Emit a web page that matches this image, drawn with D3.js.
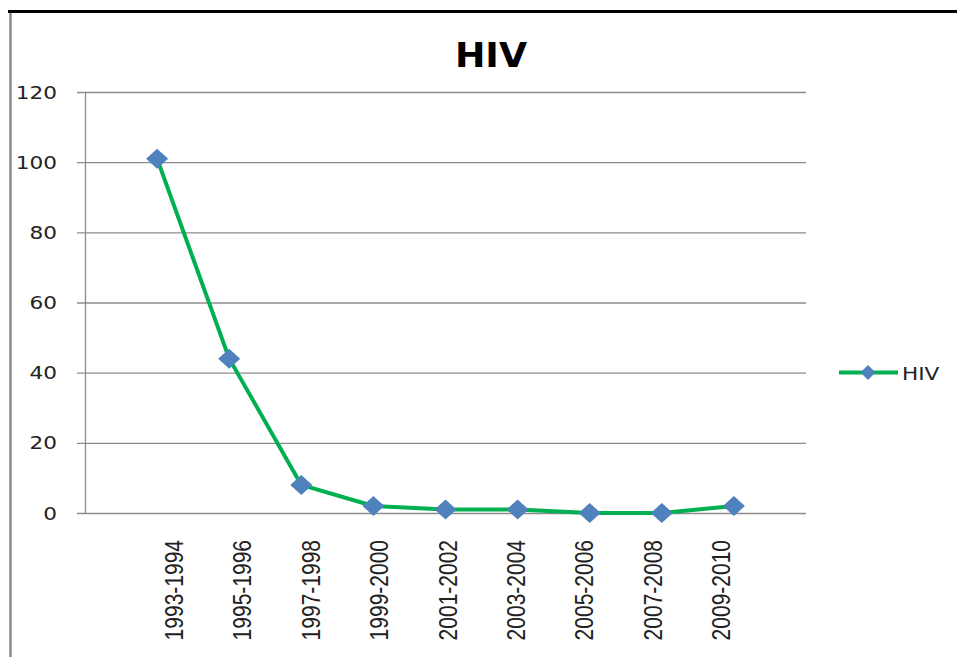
<!DOCTYPE html>
<html>
<head>
<meta charset="utf-8">
<script src="https://cdn.jsdelivr.net/npm/d3@7"></script>
<style>
  html, body { margin: 0; padding: 0; background: #fff; }
  svg { display: block; }
</style>
</head>
<body>
<svg id="chart" width="957" height="657"></svg>
<script>
// Reporting periods and HIV counts
const categories = ["1993-1994", "1995-1996", "1997-1998", "1999-2000", "2001-2002",
                    "2003-2004", "2005-2006", "2007-2008", "2009-2010"];
const hivValues = [101, 44, 8, 2, 1, 1, 0, 0, 2];
const yTicks = [0, 20, 40, 60, 80, 100, 120];
const seriesName = "HIV";
const chartTitle = "HIV";

const svg = d3.select("#chart");
const plot = { left: 85, right: 806, top: 92, bottom: 513 };
const stretch = 1.2; // text is drawn slightly wide

// Categories sit on slots 1..n, with an empty slot at each end of the axis
const x = d3.scaleLinear().domain([0, categories.length + 1]).range([plot.left, plot.right]);
const y = d3.scaleLinear().domain([0, 120]).range([plot.bottom, plot.top]);
// Category labels are laid out on their own, slightly tighter, spacing
const xLabel = d3.scalePoint().domain(categories).range([174, 721]);

// Frame edges
svg.append("line").attr("x1", 8).attr("x2", 957).attr("y1", 11.5).attr("y2", 11.5)
  .attr("stroke", "#000").attr("stroke-width", 3);
svg.append("line").attr("x1", 10.5).attr("x2", 10.5).attr("y1", 13).attr("y2", 657)
  .attr("stroke", "#8a8a8a").attr("stroke-width", 2.5);

// Title
svg.append("text")
  .attr("transform", `translate(491,67) scale(1.07,1)`)
  .attr("text-anchor", "middle")
  .attr("font-family", "DejaVu Sans")
  .attr("font-weight", "bold")
  .attr("font-size", 34)
  .attr("fill", "#000")
  .text(chartTitle);

// Horizontal gridlines with short ticks left of the axis
svg.append("g")
  .attr("transform", `translate(${plot.right},0)`)
  .call(d3.axisLeft(y).tickValues(yTicks).tickSize(plot.right - plot.left + 8).tickFormat(""))
  .call(g => g.select(".domain").remove())
  .call(g => g.selectAll(".tick line").attr("stroke", "#8c8c8c").attr("stroke-width", 1.3));

// Vertical axis line
svg.append("line")
  .attr("x1", plot.left + 0.5).attr("x2", plot.left + 0.5)
  .attr("y1", plot.top).attr("y2", plot.bottom)
  .attr("stroke", "#8c8c8c").attr("stroke-width", 1.3);

// Y tick labels
svg.append("g").selectAll("text").data(yTicks).join("text")
  .attr("transform", d => `translate(57,${y(d) + 6.5}) scale(${stretch},1)`)
  .attr("text-anchor", "end")
  .attr("font-family", "DejaVu Sans")
  .attr("font-size", 18)
  .attr("fill", "#222")
  .text(d => d);

// X tick labels, rotated
svg.append("g").selectAll("text").data(categories).join("text")
  .attr("transform", d => `translate(${xLabel(d) + 9},540) scale(${stretch},1) rotate(-90)`)
  .attr("text-anchor", "end")
  .attr("font-family", "Liberation Sans")
  .attr("font-size", 21)
  .attr("fill", "#222")
  .text(d => d);

// Series line
const line = d3.line().x((d, i) => x(i + 1)).y(d => y(d));
svg.append("path")
  .datum(hivValues)
  .attr("d", line)
  .attr("fill", "none")
  .attr("stroke", "#00b050")
  .attr("stroke-width", 4)
  .attr("stroke-linejoin", "round");

// Diamond markers
const diamond = (cx, cy, hw, hh) =>
  `M${cx},${cy - hh}L${cx + hw},${cy}L${cx},${cy + hh}L${cx - hw},${cy}Z`;
svg.append("g").selectAll("path").data(hivValues).join("path")
  .attr("d", (d, i) => diamond(x(i + 1), y(d), 11, 10))
  .attr("fill", "#4f81bd");

// Legend
const lg = svg.append("g");
lg.append("line").attr("x1", 839).attr("x2", 898).attr("y1", 372.5).attr("y2", 372.5)
  .attr("stroke", "#00b050").attr("stroke-width", 4);
lg.append("path").attr("d", diamond(868, 372.5, 7.5, 7.5)).attr("fill", "#4f81bd");
lg.append("text")
  .attr("transform", `translate(902,380) scale(${stretch},1)`)
  .attr("font-family", "DejaVu Sans")
  .attr("font-size", 18)
  .attr("fill", "#222")
  .text(seriesName);
</script>
</body>
</html>
